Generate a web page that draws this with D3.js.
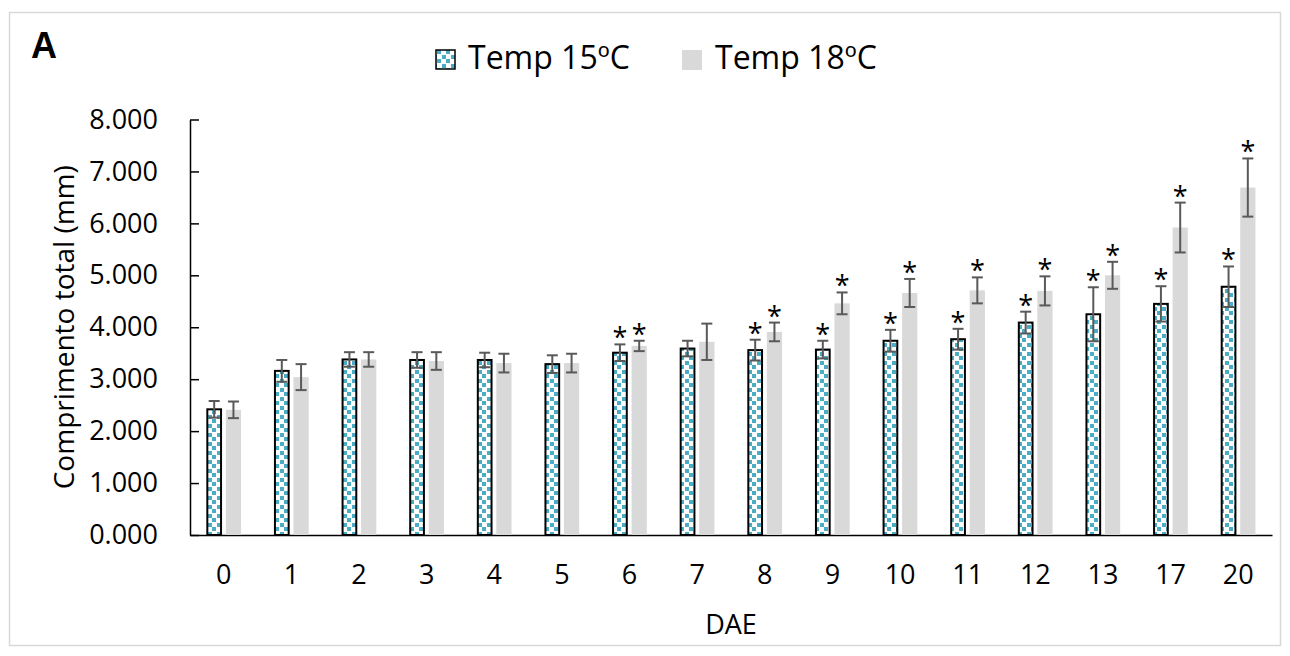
<!DOCTYPE html>
<html>
<head>
<meta charset="utf-8">
<script src="https://cdn.jsdelivr.net/npm/d3@7"></script>
<style>
  html, body { margin: 0; padding: 0; background: #fff; }
  svg { display: block; font-family: "Open Sans", "Noto Sans", sans-serif; }
</style>
</head>
<body>
<svg id="chart" width="1290" height="656"></svg>
<script>
const categories = ["0","1","2","3","4","5","6","7","8","9","10","11","12","13","17","20"];
const seriesNames = ["Temp 15ºC", "Temp 18ºC"];
const temp15 = [2.42, 3.16, 3.38, 3.37, 3.37, 3.29, 3.51, 3.59, 3.56, 3.57, 3.74, 3.77, 4.09, 4.25, 4.45, 4.78];
const temp15Err = [0.16, 0.21, 0.14, 0.15, 0.14, 0.17, 0.16, 0.15, 0.20, 0.17, 0.21, 0.20, 0.21, 0.52, 0.34, 0.39];
const temp18 = [2.41, 3.04, 3.38, 3.35, 3.31, 3.31, 3.64, 3.72, 3.91, 4.46, 4.66, 4.71, 4.70, 5.00, 5.92, 6.69];
const temp18Err = [0.16, 0.25, 0.14, 0.17, 0.18, 0.18, 0.10, 0.35, 0.18, 0.21, 0.27, 0.25, 0.28, 0.26, 0.48, 0.56];
const sig15 = [0,0,0,0,0,0,1,0,1,1,1,1,1,1,1,1];
const sig18 = [0,0,0,0,0,0,1,0,1,1,1,1,1,1,1,1];
const yTicks = [0,1,2,3,4,5,6,7,8];

const svg = d3.select("#chart");
const defs = svg.append("defs");
const pat = defs.append("pattern").attr("id","confetti")
  .attr("patternUnits","userSpaceOnUse").attr("width",9).attr("height",9);
pat.append("rect").attr("width",9).attr("height",9).attr("fill","#fff");
pat.append("rect").attr("x",1).attr("y",1).attr("width",4).attr("height",4).attr("fill","#4BACC6").attr("shape-rendering","crispEdges");
pat.append("rect").attr("x",5).attr("y",5).attr("width",4).attr("height",4).attr("fill","#4BACC6").attr("shape-rendering","crispEdges");

// outer border
svg.append("rect").attr("x",9.5).attr("y",12.5).attr("width",1271).attr("height",633)
  .attr("fill","#fff").attr("stroke","#d9d9d9").attr("stroke-width",1.5);

const pLeft = 190, pRight = 1272, pTop = 119.5, pBottom = 535;
const x0 = d3.scaleBand().domain(categories).range([pLeft, pRight]).paddingInner(0.49).paddingOuter(0.245);
const x1 = d3.scaleBand().domain(seriesNames).range([0, x0.bandwidth()]).paddingInner(0.21);
const y = d3.scaleLinear().domain([0, 8]).range([pBottom, pTop]);

// Y axis
const yAxis = d3.axisLeft(y).tickValues(yTicks).tickFormat(d3.format(".3f")).tickSizeInner(-9).tickSizeOuter(0).tickPadding(32);
const gy = svg.append("g").attr("transform",`translate(${pLeft},0)`).call(yAxis);
gy.select(".domain").attr("stroke","#000").attr("stroke-width",1.5);
gy.selectAll(".tick line").attr("stroke","#000").attr("stroke-width",1.5);
gy.selectAll(".tick text").attr("font-size",27).attr("fill","#000").attr("font-family","Open Sans");

// X axis
const xAxis = d3.axisBottom(x0).tickSize(0).tickPadding(30);
const gx = svg.append("g").attr("transform",`translate(0,${pBottom})`).call(xAxis);
gx.select(".domain").attr("stroke","#000").attr("stroke-width",1.5);
gx.selectAll(".tick text").attr("font-size",27).attr("fill","#000").attr("font-family","Open Sans");

// bars
const data = categories.map((c,i)=>({c, v15: temp15[i], e15: temp15Err[i], v18: temp18[i], e18: temp18Err[i], s15: sig15[i], s18: sig18[i]}));
const g = svg.append("g");
const bw = x1.bandwidth();
data.forEach(d => {
  const xa = x0(d.c) + x1(seriesNames[0]);
  const xb = x0(d.c) + x1(seriesNames[1]);
  g.append("rect").attr("x", xb).attr("y", y(d.v18)).attr("width", bw).attr("height", y(0)-y(d.v18)).attr("fill","#D9D9D9");
  g.append("rect").attr("x", xa+0.75).attr("y", y(d.v15)).attr("width", bw-1.5).attr("height", y(0)-y(d.v15))
    .attr("fill","url(#confetti)").attr("stroke","#000").attr("stroke-width",2);
});
// error bars and stars
const cap = 5.5;
function errBar(cx, v, e, s) {
  const yt = y(v+e), yb = y(v-e);
  g.append("line").attr("x1",cx).attr("x2",cx).attr("y1",yt).attr("y2",yb).attr("stroke","#595959").attr("stroke-width",2);
  g.append("line").attr("x1",cx-cap).attr("x2",cx+cap).attr("y1",yt).attr("y2",yt).attr("stroke","#595959").attr("stroke-width",2);
  g.append("line").attr("x1",cx-cap).attr("x2",cx+cap).attr("y1",yb).attr("y2",yb).attr("stroke","#595959").attr("stroke-width",2);
  if (s) {
    g.append("text").attr("x",cx).attr("y",yt+3).attr("text-anchor","middle")
      .attr("font-size",27).attr("font-family","Open Sans").attr("fill","#000").text("*");
  }
}
data.forEach(d => {
  errBar(x0(d.c) + x1(seriesNames[0]) + bw/2, d.v15, d.e15, d.s15);
  errBar(x0(d.c) + x1(seriesNames[1]) + bw/2, d.v18, d.e18, d.s18);
});

// axis titles
svg.append("text").attr("x", (pLeft+pRight)/2).attr("y", 634).attr("text-anchor","middle")
  .attr("font-size",27).attr("fill","#000").text("DAE");
svg.append("text").attr("transform",`translate(74,${(pTop+pBottom)/2}) rotate(-90)`).attr("text-anchor","middle")
  .attr("font-size",28).attr("fill","#000").text("Comprimento total (mm)");

// panel letter
svg.append("text").attr("x",31).attr("y",58).attr("font-size",36).attr("font-weight","bold")
  .attr("font-family","Liberation Sans, Arial, sans-serif").attr("fill","#000").text("A");

// legend
const leg = svg.append("g");
leg.append("rect").attr("x",436).attr("y",50).attr("width",19).attr("height",19)
  .attr("fill","url(#confetti)").attr("stroke","#000").attr("stroke-width",1.5);
leg.append("text").attr("x",468).attr("y",69).attr("font-size",32).attr("fill","#000").text(seriesNames[0]);
leg.append("rect").attr("x",682).attr("y",50).attr("width",20).attr("height",20).attr("fill","#D9D9D9");
leg.append("text").attr("x",715).attr("y",69).attr("font-size",32).attr("fill","#000").text(seriesNames[1]);
</script>
</body>
</html>
